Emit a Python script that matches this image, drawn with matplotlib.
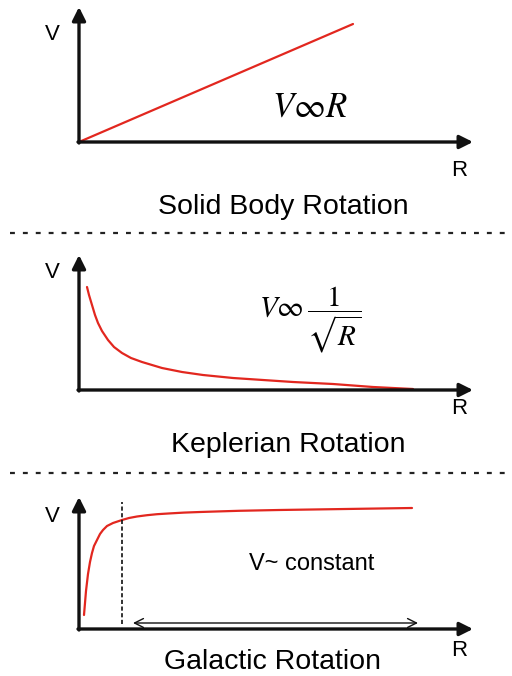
import matplotlib
matplotlib.use('Agg')
import matplotlib.pyplot as plt
from matplotlib.lines import Line2D

plt.rcParams['font.family'] = ['Liberation Sans', 'DejaVu Sans']
plt.rcParams['mathtext.fontset'] = 'stix'

W, H = 512, 676
RED = '#e2271f'

# Solid body: straight line
solid_r = [0, 274]
solid_v = [0, 118]

# Keplerian: falling curve
kep_r = [8, 10, 13, 16, 19, 23, 29, 35, 43, 52, 63, 73, 83, 93, 103,
         124, 154, 184, 214, 254, 294, 334]
kep_v = [103, 95, 85, 75, 67, 59, 50, 43, 37, 32, 28, 25, 22, 20, 18,
         15, 12, 10, 8, 6, 3, 1]

# Galactic: fast rise then flat
gal_r = [5, 6, 7, 9, 11, 13, 15, 18, 21, 24, 28, 34, 43, 50, 58, 68, 78,
         91, 105, 121, 140, 160, 200, 240, 280, 333]
gal_v = [14, 26, 38, 55, 67, 76, 83, 89, 95, 99, 103, 106, 109, 111, 112.5,
         113.8, 114.8, 115.6, 116.4, 117, 117.6, 118.2, 119, 119.6, 120.2, 121]
gal_core_r = 43
arrow_span = (54, 339)

titles = ['Solid Body Rotation', 'Keplerian Rotation', 'Galactic Rotation']

# panel origins in pixels (x, y) and arrow-tip heights
origins = [(79, 142), (79, 390), (79, 629)]
ytips = [135, 135, 132]
xtip = 394


def make_axes(fig, ox, oy):
    ax = fig.add_axes([ox / W, (H - oy) / H, 420 / W, 140 / H])
    ax.set_xlim(0, 420)
    ax.set_ylim(0, 140)
    ax.axis('off')
    return ax


def draw_frame(ax, ytip, vy, ry):
    arrow = dict(arrowstyle='-|>', lw=2.4, color='#111111',
                 mutation_scale=20, shrinkA=0, shrinkB=0)
    ax.annotate('', xy=(xtip, 0), xytext=(-1, 0), arrowprops=arrow,
                annotation_clip=False)
    ax.annotate('', xy=(0, ytip), xytext=(0, -1), arrowprops=arrow,
                annotation_clip=False)
    ax.text(-27, vy, 'V', fontsize=16, ha='center', va='center', clip_on=False)
    ax.text(380, ry, 'R', fontsize=16, ha='center', va='center', clip_on=False)


def main():
    fig = plt.figure(figsize=(W / 100, H / 100), dpi=100)
    line_kw = dict(color=RED, lw=1.6, clip_on=False,
                   solid_joinstyle='round', solid_capstyle='round')

    # panel 1
    ax1 = make_axes(fig, *origins[0])
    draw_frame(ax1, ytips[0], 107, -28)
    ax1.plot(solid_r, solid_v, **line_kw)
    ax1.text(231, 35, r'$V\infty R$', fontsize=25, ha='center', va='center')
    ax1.text(204, -65, titles[0], fontsize=20.5, ha='center', va='center', clip_on=False)

    # panel 2
    ax2 = make_axes(fig, *origins[1])
    draw_frame(ax2, ytips[1], 118, -18)
    ax2.plot(kep_r, kep_v, **line_kw)
    ax2.text(231, 70, r'$V\infty\,\dfrac{1}{\sqrt{R}}$', fontsize=21,
             ha='center', va='center')
    ax2.text(209, -55, titles[1], fontsize=20.5, ha='center', va='center', clip_on=False)

    # panel 3
    ax3 = make_axes(fig, *origins[2])
    draw_frame(ax3, ytips[2], 113, -21)
    ax3.plot(gal_r, gal_v, **line_kw)
    ax3.plot([gal_core_r, gal_core_r], [5, 127], color='#111111', lw=1.2,
             dashes=(2.5, 1.5))
    ax3.annotate('', xy=(arrow_span[1], 6), xytext=(arrow_span[0], 6),
                 arrowprops=dict(arrowstyle='<->', lw=1.0, color='#111111',
                                 mutation_scale=16, shrinkA=0, shrinkB=0))
    ax3.text(233, 65, 'V~ constant', fontsize=17, ha='center', va='center')
    ax3.text(193, -33, titles[2], fontsize=20.5, ha='center', va='center', clip_on=False)

    # dotted separators
    for sy in (233, 473):
        fig.add_artist(Line2D([10 / W, 1], [1 - sy / H] * 2, color='#222222',
                              lw=1.6, dashes=(2.2, 3.6)))

    fig.savefig('out.png', dpi=100, facecolor='white')


if __name__ == '__main__':
    main()
